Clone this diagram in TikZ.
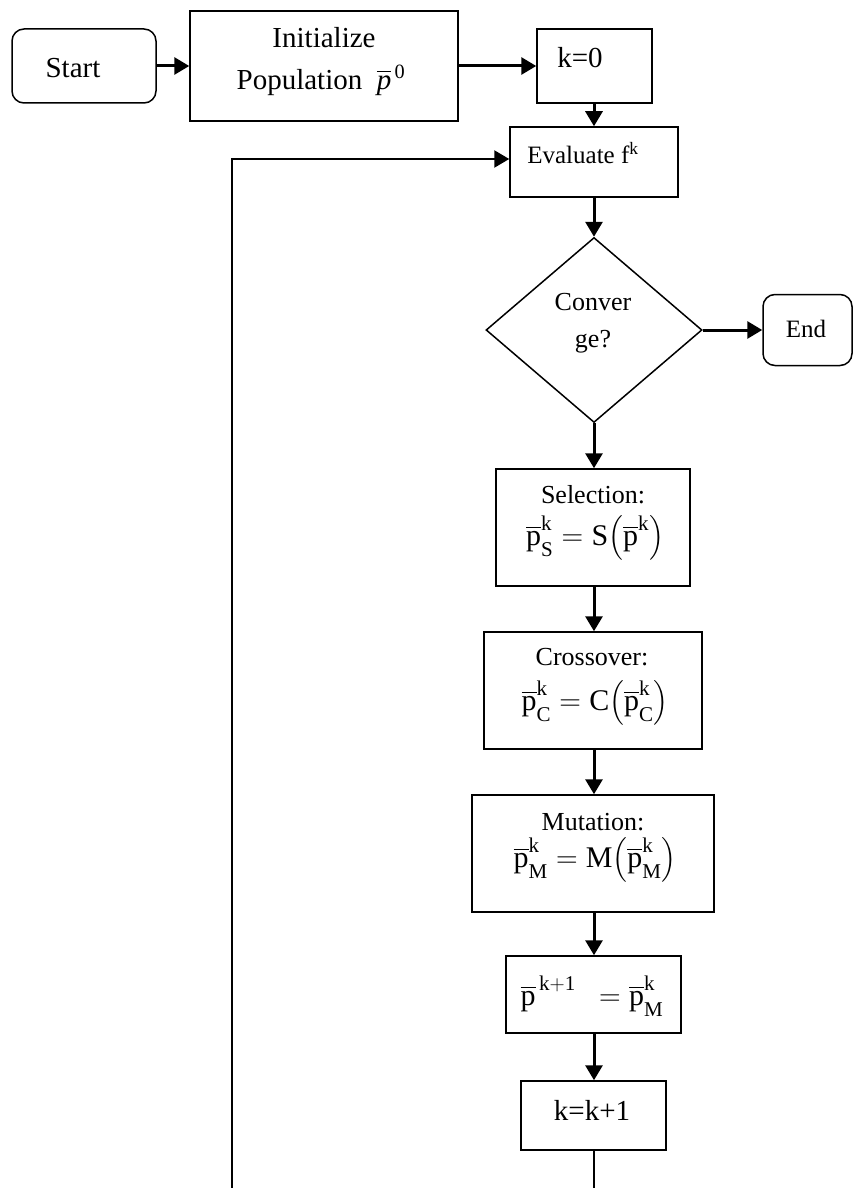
\RequirePackage{fix-cm}
\documentclass[tikz,border=0pt]{standalone}
\usepackage{amsmath}
\usepackage{fontspec}
\setmainfont{Liberation Serif}
\usetikzlibrary{shapes.geometric,arrows.meta}
\newcommand{\pb}{\overline{\mathrm{p}}}
\newcommand{\upk}[1]{\raisebox{4pt}{$\scriptstyle\mathrm{#1}$}}
\newcommand{\dnk}[1]{\raisebox{-4pt}{$\scriptstyle\mathrm{#1}$}}
\begin{document}
\begin{tikzpicture}[x=1pt,y=-1pt,
  box/.style={draw, line width=1.5pt, inner sep=0pt},
  rbox/.style={box, rounded corners=12pt},
  dia/.style={draw, line width=1.5pt, diamond, inner sep=0pt},
  txt/.style={inner sep=0pt, font=\fontsize{#1}{#1}\selectfont},
  arr/.style={line width=3pt, -{Triangle[length=15pt,width=17pt]}},
  loopln/.style={line width=2pt},
  loopar/.style={line width=2.4pt, -{Triangle[length=15pt,width=17pt]}},
  endln/.style={line width=1.8pt}]
\useasboundingbox (0,0) rectangle (853,1188);
% boxes
\node[rbox, minimum width=144pt, minimum height=74pt] (start) at (84,66) {};
\node[box, minimum width=268pt, minimum height=110pt] (init) at (324,66) {};
\node[box, minimum width=115pt, minimum height=74pt] (k0) at (594.5,66) {};
\node[box, minimum width=168pt, minimum height=70pt] (eval) at (594,162) {};
\node[dia, minimum width=216pt, minimum height=185pt] (conv) at (594,330) {};
\node[rbox, minimum width=89pt, minimum height=71pt] (end) at (807.5,330) {};
\node[box, minimum width=194pt, minimum height=117pt] (sel) at (593,527.5) {};
\node[box, minimum width=218pt, minimum height=117pt] (cross) at (593,690.5) {};
\node[box, minimum width=242pt, minimum height=117pt] (mut) at (593,853.5) {};
\node[box, minimum width=175pt, minimum height=77pt] (pk) at (593.5,994.5) {};
\node[box, minimum width=145pt, minimum height=69pt] (kk) at (593.5,1115.5) {};
% texts
\node[txt=29] (startT) at (73,68) {Start};
\node[txt=29] (initT1) at (324,38) {Initialize};
\node[txt=29] (initT2) at (321,80) {Population \ $\overline{\mathit{p}}^{\,\mathrm{0}}$};
\node[txt=29] (k0T) at (580,58) {k=0};
\node[txt=25] (evalT) at (583,153) {Evaluate f$^{\mathrm{k}}$};
\node[txt=26, align=center, font=\fontsize{26}{37}\selectfont] (convT) at (593,323) {Conver\\ge?};
\node[txt=25] (endT) at (806,329) {End};
\node[txt=26] (selT) at (593,495) {Selection:};
\node[txt=30] (selF) at (595,538) {$\pb^{\upk{k}}_{\dnk{S}} = \mathrm{S}{\left(\pb^{\upk{k}}\right)}$};
\node[txt=26] (crossT) at (592,657) {Crossover:};
\node[txt=30] (crossF) at (595,703) {$\pb^{\upk{k}}_{\dnk{C}} = \mathrm{C}{\left(\pb^{\upk{k}}_{\dnk{C}}\right)}$};
\node[txt=26] (mutT) at (593,822) {Mutation:};
\node[txt=30] (mutF) at (595,860) {$\pb^{\upk{k}}_{\dnk{M}} = \mathrm{M}{\left(\pb^{\upk{k}}_{\dnk{M}}\right)}$};
\node[txt=30] (pkF) at (592,996) {$\pb^{\,\upk{k+1}}\ \ = \pb^{\upk{k}}_{\dnk{M}}$};
\node[txt=29] (kkT) at (592,1110) {k=k+1};
% connectors
\coordinate (loopbot) at (232,1188);
\coordinate (kkbot) at (594,1188);
\draw[arr] (start) -- (init);
\draw[arr] (init) -- (k0);
\draw[arr] (k0.south -| 594,0) -- (eval.north -| 594,0);
\draw[arr] (eval.south -| 594,0) -- (conv.north);
\draw[arr] (conv.east) -- (end.west);
\draw[arr] (conv.south) -- (sel.north -| 594,0);
\draw[arr] (sel.south -| 594,0) -- (cross.north -| 594,0);
\draw[arr] (cross.south -| 594,0) -- (mut.north -| 594,0);
\draw[arr] (mut.south -| 594,0) -- (pk.north -| 594,0);
\draw[arr] (pk.south -| 594,0) -- (kk.north -| 594,0);
\draw[endln] (kk.south -| 594,0) -- (kkbot);
\draw[loopar] (loopbot) |- ([yshift=3pt]eval.west);
\end{tikzpicture}
\end{document}
